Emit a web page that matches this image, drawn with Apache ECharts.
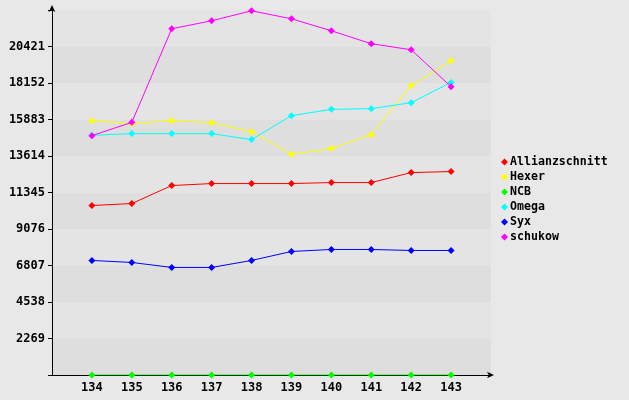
<!DOCTYPE html>
<html><head><meta charset="utf-8">
<script src="https://cdn.jsdelivr.net/npm/echarts@6/dist/echarts.min.js"></script>
<style>html,body{margin:0;padding:0;background:#e8e8e8}#c{width:629px;height:400px}</style>
</head><body><div id="c"></div>
<script>
var rounds = [134,135,136,137,138,139,140,141,142,143];
var yTicks = [2269,4538,6807,9076,11345,13614,15883,18152,20421];
var allianzschnitt = [10535,10659,11777,11901,11901,11901,11963,11963,12584,12646];
var hexer = [15812,15626,15812,15688,15129,13720,14073,14942,17984,19536];
var ncb = [0,0,0,0,0,0,0,0,0,0];
var omega = [14899,15005,15005,15005,14632,16122,16513,16557,16929,18189];
var syx = [7120,6996,6686,6686,7120,7679,7803,7803,7741,7741];
var schukow = [14880,15706,21523,22020,22640,22144,21399,20592,20219,17922];

var names = ['Allianzschnitt','Hexer','NCB','Omega','Syx','schukow'];
var colors = ['#ff0000','#ffff00','#00ff00','#00ffff','#0000ff','#ff00ff'];
var datasets = [allianzschnitt,hexer,ncb,omega,syx,schukow];
var font = 'DejaVu Sans Mono';

var chart = echarts.init(document.getElementById('c'));
chart.setOption({
  backgroundColor:'#e8e8e8',
  animation:false,
  grid:{left:52,right:138,top:10,bottom:25},
  legend:{
    orient:'vertical', left:496, top:151,
    itemWidth:7, itemHeight:7, itemGap:3,
    icon:'diamond',
    textStyle:{fontFamily:font,fontWeight:'bold',fontSize:11.6,color:'#000',padding:[0,0,0,-3]},
    data:names
  },
  xAxis:{
    type:'value', min:133, max:144, interval:1,
    axisLine:{lineStyle:{color:'#000',width:1},symbol:['none','arrow'],symbolSize:[5,7],symbolOffset:[0,3]},
    axisTick:{show:false},
    splitLine:{show:false},
    axisLabel:{margin:7,fontFamily:font,fontWeight:'bold',fontSize:12,color:'#000',
      formatter:function(v){return rounds.indexOf(v)>=0?String(v):'';}}
  },
  yAxis:{
    type:'value', min:0, max:22690, interval:2269,
    axisLine:{show:true,lineStyle:{color:'#000',width:1},symbol:['none','arrow'],symbolSize:[5,7],symbolOffset:[0,5]},
    axisTick:{show:true,length:4,lineStyle:{color:'#000'}},
    splitLine:{show:false},
    splitArea:{show:true,areaStyle:{color:['#dedede','#e4e4e4']}},
    axisLabel:{margin:7,fontFamily:font,fontWeight:'bold',fontSize:12,color:'#000',
      formatter:function(v){return yTicks.indexOf(v)>=0?String(v):'';}}
  },
  series:names.map(function(n,i){
    return {
      name:n, type:'line', z:3+i,
      data:rounds.map(function(r,j){return [r,datasets[i][j]];}),
      symbol:'diamond', symbolSize:7, showSymbol:true,
      lineStyle:{color:colors[i],width:1},
      itemStyle:{color:colors[i]},
      emphasis:{disabled:true}
    };
  }),
  color:colors
});
</script></body></html>
